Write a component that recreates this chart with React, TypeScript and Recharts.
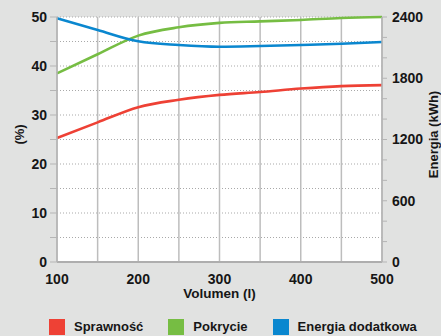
import React from 'react';
import { LineChart, Line, XAxis, YAxis, CartesianGrid } from 'recharts';

const volumes = [100, 150, 200, 250, 300, 350, 400, 450, 500];
const sprawnosc = [25.3, 28.5, 31.6, 33.1, 34.1, 34.7, 35.4, 35.9, 36.1];
const pokrycie = [38.5, 42.4, 46.2, 47.9, 48.8, 49.1, 49.4, 49.8, 50.0];
const energia = [2387, 2273, 2162, 2126, 2109, 2116, 2126, 2138, 2155];

const xTicks = [100, 150, 200, 250, 300, 350, 400, 450, 500];
const pctTicks = [0, 5, 10, 15, 20, 25, 30, 35, 40, 45, 50];
const kwhTicks = [0, 200, 400, 600, 800, 1000, 1200, 1400, 1600, 1800, 2000, 2200, 2400];

const series = [
  { key: 'sprawnosc', name: 'Sprawność', color: '#ee4135', axis: 'left' },
  { key: 'pokrycie', name: 'Pokrycie', color: '#76bd43', axis: 'left' },
  { key: 'energia', name: 'Energia dodatkowa', color: '#0a87cf', axis: 'right' },
];

const data = volumes.map((v, i) => ({
  volumen: v,
  sprawnosc: sprawnosc[i],
  pokrycie: pokrycie[i],
  energia: energia[i],
}));

const FONT = '"Liberation Sans", Arial, sans-serif';
const tickStyle = { fontSize: 14, fontWeight: 700, fill: '#161616', fontFamily: FONT };

const RotatedLabel = (props: any) => {
  const { viewBox, value, side } = props;
  if (!viewBox) return null;
  const cx = side === 'left' ? viewBox.x + 19 : viewBox.x + viewBox.width - 8;
  const cy = viewBox.y + viewBox.height / 2 - 5;
  return (
    <text
      x={cx}
      y={cy}
      transform={`rotate(-90, ${cx}, ${cy})`}
      textAnchor="middle"
      dominantBaseline="central"
      style={{ fontSize: 13, fontWeight: 700, fill: '#161616', fontFamily: FONT }}
    >
      {value}
    </text>
  );
};

const BottomLabel = (props: any) => {
  const { viewBox, value } = props;
  if (!viewBox) return null;
  return (
    <text
      x={viewBox.x + viewBox.width / 2}
      y={viewBox.y + 31}
      textAnchor="middle"
      dominantBaseline="central"
      style={{ fontSize: 13.5, fontWeight: 700, fill: '#161616', fontFamily: FONT }}
    >
      {value}
    </text>
  );
};

export default function App() {
  return (
    <div style={{ position: 'absolute', left: 0, top: 0, width: 441, height: 336, background: '#e1e2e1', overflow: 'hidden' }}>
      <LineChart width={441} height={336} data={data} margin={{ top: 17, right: 0, left: 0, bottom: 0 }}>
        <CartesianGrid yAxisId="left" fill="#ffffff" vertical={false} stroke="#a9a9a9" strokeDasharray="1 2" />
        <CartesianGrid yAxisId="left" horizontal={false} stroke="#bdbdbd" strokeWidth={1.5} />
        <XAxis
          dataKey="volumen"
          type="number"
          domain={[100, 500]}
          ticks={xTicks}
          tickFormatter={(v: number) => (v % 100 === 0 ? String(v) : '')}
          tickLine={false}
          tickMargin={6}
          height={74}
          axisLine={{ stroke: '#aeaeae', strokeWidth: 2 }}
          tick={tickStyle}
          label={{ value: 'Volumen (l)', content: <BottomLabel /> }}
        />
        <YAxis
          yAxisId="left"
          orientation="left"
          domain={[0, 50]}
          ticks={pctTicks}
          tickFormatter={(v: number) => (v % 10 === 0 ? String(v) : '')}
          width={57}
          tickSize={7}
          tickMargin={3}
          tickLine={{ stroke: '#b5b5b5' }}
          axisLine={{ stroke: '#b5b5b5', strokeWidth: 1.5 }}
          tick={tickStyle}
          label={{ value: '(%)', content: <RotatedLabel side="left" /> }}
        />
        <YAxis
          yAxisId="right"
          orientation="right"
          domain={[0, 2400]}
          ticks={kwhTicks}
          tickFormatter={(v: number) => (v % 600 === 0 ? String(v) : '')}
          width={59}
          tickSize={5}
          tickMargin={5}
          tickLine={{ stroke: '#b5b5b5' }}
          axisLine={{ stroke: '#b5b5b5', strokeWidth: 1.5 }}
          tick={tickStyle}
          label={{ value: 'Energia (kWh)', content: <RotatedLabel side="right" /> }}
        />
        {series.map((s) => (
          <Line
            key={s.key}
            yAxisId={s.axis}
            type="monotone"
            dataKey={s.key}
            name={s.name}
            stroke={s.color}
            strokeWidth={2.6}
            dot={false}
            activeDot={false}
            isAnimationActive={false}
          />
        ))}
      </LineChart>
      <div
        style={{
          position: 'absolute',
          left: 49,
          top: 319,
          display: 'flex',
          alignItems: 'center',
          gap: 25,
          fontFamily: FONT,
          fontSize: 13,
          fontWeight: 700,
          color: '#161616',
        }}
      >
        {series.map((s) => (
          <div key={s.key} style={{ display: 'flex', alignItems: 'center' }}>
            <span style={{ display: 'inline-block', width: 16, height: 16, background: s.color, marginRight: 9 }} />
            <span style={{ lineHeight: '16px' }}>{s.name}</span>
          </div>
        ))}
      </div>
    </div>
  );
}
